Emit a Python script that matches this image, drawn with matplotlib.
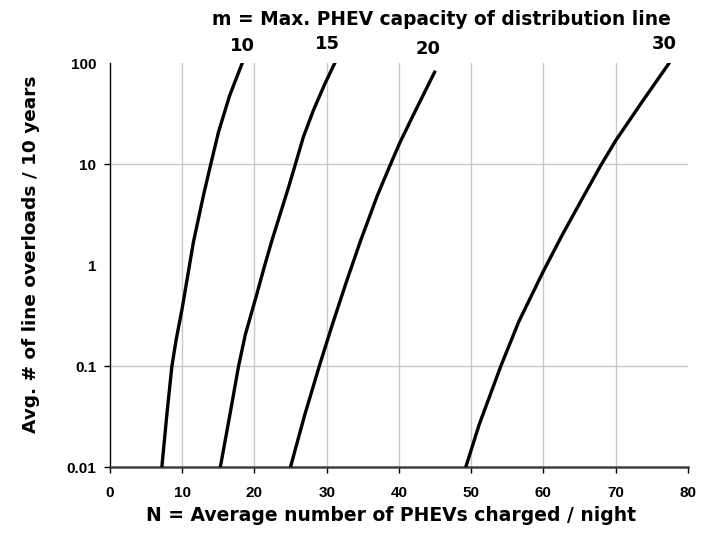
import matplotlib
matplotlib.use("Agg")
import matplotlib.pyplot as plt

plt.rcParams['font.family'] = ['DejaVu Sans']
plt.rcParams['font.weight'] = 'bold'

tick_family, tick_size = 'Liberation Sans', 11

# Average number of PHEVs charged per night (N) vs. expected overloads per 10 years,
# one curve per line capacity m
capacities = ["10", "15", "20", "30"]

n_m10 = [7.17, 7.84, 8.56, 9.15, 9.99, 11.55, 12.94, 13.94, 15.02, 16.57, 18.27]
y_m10 = [0.01, 0.0319, 0.1, 0.183, 0.376, 1.71, 4.95, 10.0, 20.9, 48.2, 99.0]

n_m15 = [15.26, 16.55, 17.79, 18.72, 20.35, 21.36, 22.43, 23.58, 24.73, 25.66,
         26.77, 28.16, 29.75, 31.07]
y_m15 = [0.01, 0.0319, 0.1, 0.205, 0.528, 0.968, 1.78, 3.26, 5.98, 10.0,
         18.7, 34.3, 62.8, 99.0]

n_m20 = [24.97, 26.96, 28.96, 30.76, 32.73, 34.72, 37.03, 38.83, 40.08, 41.96, 44.94]
y_m20 = [0.01, 0.0332, 0.1, 0.257, 0.689, 1.78, 4.95, 10.0, 16.1, 30.5, 81.8]

n_m30 = [49.24, 51.1, 54.09, 56.59, 59.96, 62.61, 65.39, 68.03, 70.04, 73.65, 77.35]
y_m30 = [0.01, 0.0264, 0.1, 0.277, 0.865, 2.0, 4.59, 10.0, 17.3, 41.4, 99.0]

x_ticks = [0, 10, 20, 30, 40, 50, 60, 70, 80]
y_ticks = [0.01, 0.1, 1, 10, 100]
y_tick_labels = ["0.01", "0.1", "1", "10", "100"]

series = [(n_m10, y_m10), (n_m15, y_m15), (n_m20, y_m20), (n_m30, y_m30)]
label_offsets = [(0, 9.5), (-5, 10.3), (-5, 13.0), (-3, 10.5)]

fig = plt.figure(figsize=(7.04, 5.46), dpi=100)
ax = fig.add_axes([0.1563, 0.1438, 0.977 - 0.1563, 0.884 - 0.1438])

for (xs, ys), name, off in zip(series, capacities, label_offsets):
    ax.plot(xs, ys, color='black', lw=2.4, solid_joinstyle='round', zorder=3)
    ax.annotate(name, xy=(xs[-1], ys[-1]), xytext=off, textcoords='offset points',
                ha='center', va='baseline', fontsize=13, fontweight='bold')

ax.set_yscale('log')
ax.set_xlim(0, 80)
ax.set_ylim(0.01, 100)
ax.set_xticks(x_ticks)
ax.set_yticks(y_ticks)
ax.set_yticklabels(y_tick_labels)
ax.minorticks_off()

ax.grid(True, color='#c8c8c8', lw=1.0, zorder=0)
for t, v in zip(ax.xaxis.get_major_ticks(), x_ticks):
    if v in (0, 80):
        t.gridline.set_visible(False)
for t, v in zip(ax.yaxis.get_major_ticks(), y_ticks):
    if v in (1, 100):
        t.gridline.set_visible(False)
        t.tick1line.set_visible(False)
    if v == 0.01:
        t.gridline.set_visible(False)

ax.tick_params(axis='both', direction='out', length=4, width=1, labelsize=tick_size,
               colors='black')
ax.tick_params(axis='y', pad=6)
ax.tick_params(axis='x', pad=9)
for lab in ax.get_xticklabels() + ax.get_yticklabels():
    lab.set_fontweight('bold')
    lab.set_family(tick_family)

ax.spines['top'].set_visible(False)
ax.spines['right'].set_visible(False)
ax.spines['left'].set_color('black')
ax.spines['left'].set_linewidth(1.0)
ax.spines['bottom'].set_color('#404040')
ax.spines['bottom'].set_linewidth(1.8)

ax.set_xlabel("N = Average number of PHEVs charged / night", fontsize=13.5,
              fontweight='bold', labelpad=5)
ax.xaxis.label.set_x(0.486)
ax.set_ylabel("Avg. # of line overloads / 10 years", fontsize=13.3,
              fontweight='bold', labelpad=19)
ax.yaxis.label.set_y(0.528)
fig.text(0.6265, 0.9645, "m = Max. PHEV capacity of distribution line", ha='center',
         va='center', fontsize=13.4, fontweight='bold')

fig.savefig("out.png", dpi=100)
